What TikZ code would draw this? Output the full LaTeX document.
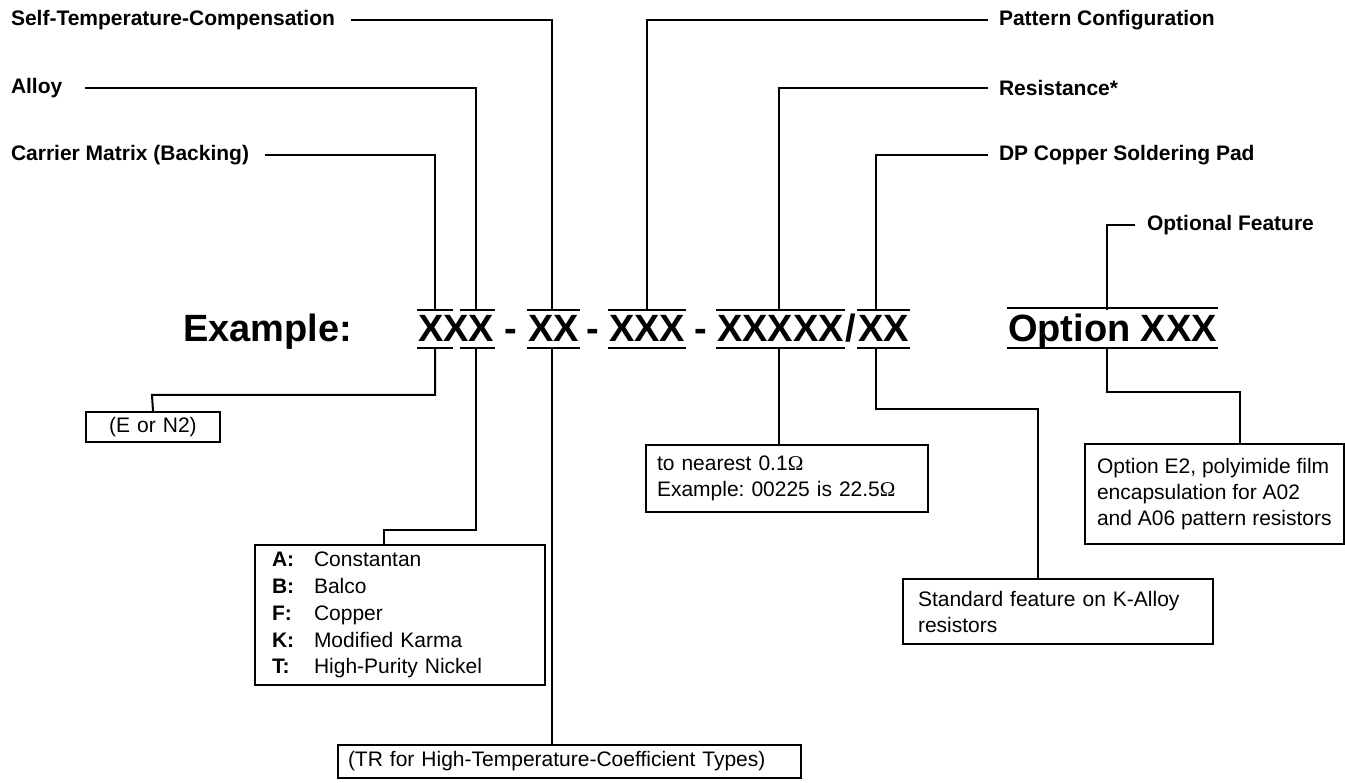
\documentclass[tikz,border=0pt]{standalone}
\usepackage{fontspec}
\setmainfont{Liberation Sans}
\newfontfamily\omf{Liberation Serif}
\begin{document}
\frenchspacing
\begin{tikzpicture}[x=1pt,y=-1pt,line width=2pt,
  lab/.style={font=\bfseries\fontsize{21}{25}\selectfont,inner sep=0},
  big/.style={font=\bfseries\fontsize{38}{44}\selectfont,anchor=base west,inner sep=0},
  dsh/.style={font=\bfseries\fontsize{38}{44}\selectfont,anchor=base,inner sep=0},
  box/.style={draw,line width=2pt,anchor=north west,inner xsep=14pt,inner ysep=0,align=left,font=\fontsize{21}{26}\selectfont}]
\useasboundingbox (0,0) rectangle (1345,783);
% top labels
\node[lab,anchor=west] (stc) at (10,20) {Self-Temperature-Compensation};
\node[lab,anchor=west] (aly) at (10,88) {Alloy};
\node[lab,anchor=west] (car) at (10,155) {Carrier Matrix (Backing)};
\node[lab,anchor=west] (pat) at (998,20) {Pattern Configuration};
\node[lab,anchor=west] (res) at (998,88) {Resistance*};
\node[lab,anchor=west] (dpc) at (998,155) {DP Copper Soldering Pad};
\node[lab,anchor=west] (opf) at (1146,225) {Optional Feature};
% example row
\node[big] (ex) at (182,342) {Example:};
\node[big] (g1) at (417,342) {XXX};
\node[dsh] (d1) at (511,342) {-};
\node[big] (g2) at (527,342) {XX};
\node[dsh] (d2) at (593,342) {-};
\node[big] (g3) at (608,342) {XXX};
\node[dsh] (d3) at (701,342) {-};
\node[big] (g4) at (716,342) {XXXXX};
\node[big] (sl) at (g4.base east) {/};
\node[big] (g5) at (sl.base east) {XX};
\node[big] (g6) at (1007,342) {Option XXX};
% over and under lines
\foreach \n in {g2,g3,g4,g5,g6}{
  \draw ([yshift=5pt]\n.north west) -- ([yshift=5pt]\n.north east);
  \draw ([yshift=-6pt]\n.base west) -- ([yshift=-6pt]\n.base east);
}
\coordinate (m1) at (g1.north);
\draw ([yshift=5pt]g1.north west) -- ([xshift=-3.5pt,yshift=5pt]m1);
\draw ([xshift=3.5pt,yshift=5pt]m1) -- ([yshift=5pt]g1.north east);
\draw ([yshift=-6pt]g1.base west) -- ([xshift=-3.5pt]m1 |- 0,348);
\draw ([xshift=3.5pt]m1 |- 0,348) -- ([yshift=-6pt]g1.base east);
% coordinates on the lines
\coordinate (oc) at (435,310); \coordinate (oa) at (476,310);
\coordinate (os) at (552,310); \coordinate (op) at (647,310);
\coordinate (or) at (779,310); \coordinate (od) at (876,310);
\coordinate (oo) at (1107,310);
\coordinate (uc) at (435,348); \coordinate (ua) at (476,348);
\coordinate (us) at (552,348); \coordinate (ur) at (779,348);
\coordinate (ud) at (876,348); \coordinate (uo) at (1107,348);
% upper connectors
\draw ([xshift=15pt]stc.east) -| (os);
\draw ([xshift=22pt]aly.east) -| (oa);
\draw ([xshift=15pt]car.east) -| (oc);
\draw ([xshift=-10pt]pat.west) -| (op);
\draw ([xshift=-10pt]res.west) -| (or);
\draw ([xshift=-10pt]dpc.west) -| (od);
\draw ([xshift=-11pt]opf.west) -| (oo);
% boxes
\node[box,inner xsep=0pt,align=center,text width=134pt,minimum height=30pt] (enb) at (85,411) {(E or N2)};
\node[box,inner xsep=17pt,text width=256pt,minimum height=140pt,font=\fontsize{21}{26.7}\selectfont] (alb) at (254,544)
  {\begin{tabular}{@{}p{42pt}@{}l@{}}
   \textbf{A:} & Constantan\\ \textbf{B:} & Balco\\ \textbf{F:} & Copper\\
   \textbf{K:} & Modified Karma\\ \textbf{T:} & High-Purity Nickel\end{tabular}};
\node[box,inner xsep=10pt,text width=443pt,minimum height=33pt] (trb) at (337,744) {(TR for High-Temperature-Coefficient Types)};
\node[box,inner xsep=11pt,text width=260pt,minimum height=67pt] (rsb) at (645,444) {to nearest 0.1{\omf Ω}\\Example: 00225 is 22.5{\omf Ω}};
\node[box,inner xsep=15pt,text width=280pt,minimum height=65pt] (sdb) at (902,578) {Standard feature on K-Alloy\\resistors};
\node[box,inner xsep=12pt,minimum height=100pt] (opb) at (1084,443) {Option E2, polyimide film\\encapsulation for A02\\and A06 pattern resistors};
% lower connectors
\coordinate (k1) at (152,395);
\draw (uc) |- (k1) -- (enb.north);
\coordinate (k2) at (384,530);
\draw (ua) |- (k2) -- (k2 |- alb.north);
\draw (us) -- (us |- trb.north);
\draw (ur) -- (ur |- rsb.north);
\coordinate (k3) at (1038,409);
\draw (ud) |- (k3) -- (k3 |- sdb.north);
\coordinate (k4) at (1240,392);
\draw (uo) |- (k4) -- (k4 |- opb.north);
\end{tikzpicture}
\end{document}
